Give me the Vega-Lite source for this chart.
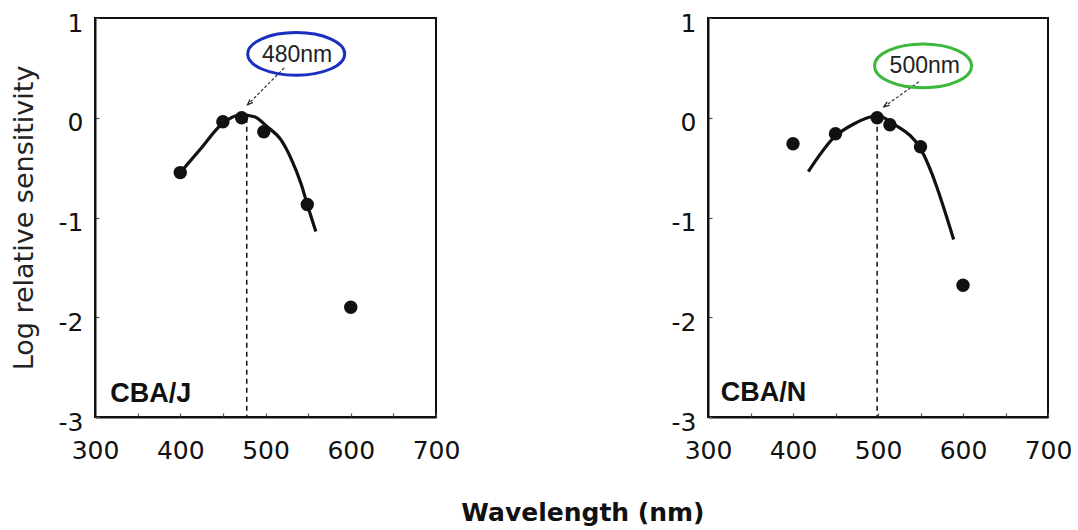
{
  "$schema": "https://vega.github.io/schema/vega-lite/v6.json",
  "background": "white",
  "padding": {"left": 9, "top": 10, "right": 5, "bottom": 5},
  "datasets": {
    "pts": [
      {"panel": "J", "wl": 400, "s": -0.55},
      {"panel": "J", "wl": 450, "s": -0.04},
      {"panel": "J", "wl": 472, "s": 0.0},
      {"panel": "J", "wl": 498, "s": -0.14},
      {"panel": "J", "wl": 549, "s": -0.87},
      {"panel": "J", "wl": 600, "s": -1.9},
      {"panel": "N", "wl": 400, "s": -0.26},
      {"panel": "N", "wl": 450, "s": -0.16},
      {"panel": "N", "wl": 499, "s": 0.0},
      {"panel": "N", "wl": 514, "s": -0.07},
      {"panel": "N", "wl": 550, "s": -0.29},
      {"panel": "N", "wl": 600, "s": -1.68}
    ],
    "curve": [
      {"panel": "J", "wl": 400, "s": -0.55},
      {"panel": "J", "wl": 424, "s": -0.31},
      {"panel": "J", "wl": 448, "s": -0.07},
      {"panel": "J", "wl": 471, "s": 0.03},
      {"panel": "J", "wl": 487, "s": 0.01},
      {"panel": "J", "wl": 502, "s": -0.09},
      {"panel": "J", "wl": 518, "s": -0.22},
      {"panel": "J", "wl": 530, "s": -0.41},
      {"panel": "J", "wl": 542, "s": -0.67},
      {"panel": "J", "wl": 549, "s": -0.87},
      {"panel": "J", "wl": 559, "s": -1.14},
      {"panel": "N", "wl": 418, "s": -0.54},
      {"panel": "N", "wl": 448, "s": -0.2},
      {"panel": "N", "wl": 472, "s": -0.06},
      {"panel": "N", "wl": 499, "s": 0.02},
      {"panel": "N", "wl": 520, "s": -0.07},
      {"panel": "N", "wl": 550, "s": -0.31},
      {"panel": "N", "wl": 589, "s": -1.22}
    ],
    "ann": [
      {"panel": "J", "peak": 478, "top": 0, "bottom": -3, "ax": 522, "ay": 0.5, "bx": 479, "by": 0.13, "lx": 536, "ly": 0.64, "tx": 537, "ty": 0.56, "label": "480nm", "sx": 318, "sy": -2.85, "strain": "CBA/J"},
      {"panel": "N", "peak": 499, "top": 0, "bottom": -3, "ax": 548, "ay": 0.36, "bx": 507, "by": 0.11, "lx": 553, "ly": 0.52, "tx": 555, "ty": 0.45, "label": "500nm", "sx": 315, "sy": -2.84, "strain": "CBA/N"}
    ]
  },
  "config": {
    "font": "Liberation Sans",
    "view": {"stroke": "#111", "strokeWidth": 2},
    "axis": {
      "grid": false,
      "domainColor": "#111",
      "domainWidth": 2,
      "labelFont": "DejaVu Sans",
      "labelFontSize": 25,
      "labelColor": "#111",
      "labelFlush": false,
      "labelOverlap": false,
      "tickColor": "#555",
      "tickSize": -4,
      "tickWidth": 1.2,
      "title": null
    }
  },
  "title": {
    "text": "Wavelength (nm)",
    "orient": "bottom",
    "anchor": "middle",
    "font": "DejaVu Sans",
    "fontSize": 25,
    "fontWeight": "bold",
    "color": "#111",
    "offset": 37,
    "dx": 42
  },
  "bounds": "flush",
  "spacing": 272,
  "hconcat": [
    {
      "width": 341,
      "height": 399,
      "layer": [
        {
          "data": {"name": "ann"},
          "transform": [{"filter": "datum.panel === 'J'"}],
          "mark": {"type": "rule", "strokeDash": [5, 4], "strokeWidth": 1.5, "color": "#111"},
          "encoding": {
            "x": {"field": "peak", "type": "quantitative", "scale": {"domain": [300, 700]}, "axis": {"values": [300, 350, 400, 450, 500, 550, 600, 650, 700], "labelExpr": "datum.value % 100 === 0 ? '' + datum.value : ''", "labelPadding": 25, "title": null}},
            "y": {"field": "top", "type": "quantitative", "scale": {"domain": [-3, 1]}, "axis": {"values": [-3, -2, -1, 0, 1], "labelExpr": "'' + datum.value", "labelPadding": 16, "labelOffset": 5, "title": "Log relative sensitivity", "titleFont": "DejaVu Sans", "titleFontSize": 27, "titleFontWeight": "normal", "titleColor": "#222", "titlePadding": 20}},
            "y2": {"field": "bottom"}
          }
        },
        {
          "data": {"name": "curve"},
          "transform": [{"filter": "datum.panel === 'J'"}],
          "mark": {"type": "line", "interpolate": "monotone", "color": "#111", "strokeWidth": 3.2},
          "encoding": {
            "x": {"field": "wl", "type": "quantitative"},
            "y": {"field": "s", "type": "quantitative"}
          }
        },
        {
          "data": {"name": "pts"},
          "transform": [{"filter": "datum.panel === 'J'"}],
          "mark": {"type": "point", "filled": true, "color": "#111", "size": 180, "opacity": 1},
          "encoding": {
            "x": {"field": "wl", "type": "quantitative"},
            "y": {"field": "s", "type": "quantitative"}
          }
        },
        {
          "data": {"name": "ann"},
          "transform": [{"filter": "datum.panel === 'J'"}],
          "mark": {"type": "rule", "strokeDash": [3, 2], "strokeWidth": 1.2, "color": "#333"},
          "encoding": {
            "x": {"field": "ax", "type": "quantitative"},
            "y": {"field": "ay", "type": "quantitative"},
            "x2": {"field": "bx"},
            "y2": {"field": "by"}
          }
        },
        {
          "data": {"name": "ann"},
          "transform": [{"filter": "datum.panel === 'J'"}],
          "mark": {"type": "point", "shape": "M-0.7,1.8L0,0L0.7,1.8", "filled": false, "size": 36, "angle": 225, "strokeWidth": 1.3, "color": "#222", "opacity": 1},
          "encoding": {
            "x": {"field": "bx", "type": "quantitative"},
            "y": {"field": "by", "type": "quantitative"}
          }
        },
        {
          "data": {"name": "ann"},
          "transform": [{"filter": "datum.panel === 'J'"}],
          "mark": {"type": "point", "shape": "M-1,0A1,0.44,0,1,1,1,0A1,0.44,0,1,1,-1,0Z", "filled": false, "size": 9409, "strokeWidth": 3, "color": "#1a2fc0", "opacity": 1},
          "encoding": {
            "x": {"field": "lx", "type": "quantitative"},
            "y": {"field": "ly", "type": "quantitative"}
          }
        },
        {
          "data": {"name": "ann"},
          "transform": [{"filter": "datum.panel === 'J'"}],
          "mark": {"type": "text", "fontSize": 23, "color": "#222", "baseline": "alphabetic", "align": "center"},
          "encoding": {
            "x": {"field": "tx", "type": "quantitative"},
            "y": {"field": "ty", "type": "quantitative"},
            "text": {"field": "label"}
          }
        },
        {
          "data": {"name": "ann"},
          "transform": [{"filter": "datum.panel === 'J'"}],
          "mark": {"type": "text", "fontSize": 27, "fontWeight": "bold", "color": "#111", "baseline": "alphabetic", "align": "left"},
          "encoding": {
            "x": {"field": "sx", "type": "quantitative"},
            "y": {"field": "sy", "type": "quantitative"},
            "text": {"field": "strain"}
          }
        }
      ]
    },
    {
      "width": 340,
      "height": 399,
      "layer": [
        {
          "data": {"name": "ann"},
          "transform": [{"filter": "datum.panel === 'N'"}],
          "mark": {"type": "rule", "strokeDash": [5, 4], "strokeWidth": 1.5, "color": "#111"},
          "encoding": {
            "x": {"field": "peak", "type": "quantitative", "scale": {"domain": [300, 700]}, "axis": {"values": [300, 350, 400, 450, 500, 550, 600, 650, 700], "labelExpr": "datum.value % 100 === 0 ? '' + datum.value : ''", "labelPadding": 25, "title": null}},
            "y": {"field": "top", "type": "quantitative", "scale": {"domain": [-3, 1]}, "axis": {"values": [-3, -2, -1, 0, 1], "labelExpr": "'' + datum.value", "labelPadding": 16, "labelOffset": 5, "title": null}},
            "y2": {"field": "bottom"}
          }
        },
        {
          "data": {"name": "curve"},
          "transform": [{"filter": "datum.panel === 'N'"}],
          "mark": {"type": "line", "interpolate": "monotone", "color": "#111", "strokeWidth": 3.2},
          "encoding": {
            "x": {"field": "wl", "type": "quantitative"},
            "y": {"field": "s", "type": "quantitative"}
          }
        },
        {
          "data": {"name": "pts"},
          "transform": [{"filter": "datum.panel === 'N'"}],
          "mark": {"type": "point", "filled": true, "color": "#111", "size": 180, "opacity": 1},
          "encoding": {
            "x": {"field": "wl", "type": "quantitative"},
            "y": {"field": "s", "type": "quantitative"}
          }
        },
        {
          "data": {"name": "ann"},
          "transform": [{"filter": "datum.panel === 'N'"}],
          "mark": {"type": "rule", "strokeDash": [3, 2], "strokeWidth": 1.2, "color": "#333"},
          "encoding": {
            "x": {"field": "ax", "type": "quantitative"},
            "y": {"field": "ay", "type": "quantitative"},
            "x2": {"field": "bx"},
            "y2": {"field": "by"}
          }
        },
        {
          "data": {"name": "ann"},
          "transform": [{"filter": "datum.panel === 'N'"}],
          "mark": {"type": "point", "shape": "M-0.7,1.8L0,0L0.7,1.8", "filled": false, "size": 36, "angle": 234, "strokeWidth": 1.3, "color": "#222", "opacity": 1},
          "encoding": {
            "x": {"field": "bx", "type": "quantitative"},
            "y": {"field": "by", "type": "quantitative"}
          }
        },
        {
          "data": {"name": "ann"},
          "transform": [{"filter": "datum.panel === 'N'"}],
          "mark": {"type": "point", "shape": "M-1,0A1,0.45,0,1,1,1,0A1,0.45,0,1,1,-1,0Z", "filled": false, "size": 9409, "strokeWidth": 3, "color": "#3cb83c", "opacity": 1},
          "encoding": {
            "x": {"field": "lx", "type": "quantitative"},
            "y": {"field": "ly", "type": "quantitative"}
          }
        },
        {
          "data": {"name": "ann"},
          "transform": [{"filter": "datum.panel === 'N'"}],
          "mark": {"type": "text", "fontSize": 23, "color": "#222", "baseline": "alphabetic", "align": "center"},
          "encoding": {
            "x": {"field": "tx", "type": "quantitative"},
            "y": {"field": "ty", "type": "quantitative"},
            "text": {"field": "label"}
          }
        },
        {
          "data": {"name": "ann"},
          "transform": [{"filter": "datum.panel === 'N'"}],
          "mark": {"type": "text", "fontSize": 27, "fontWeight": "bold", "color": "#111", "baseline": "alphabetic", "align": "left"},
          "encoding": {
            "x": {"field": "sx", "type": "quantitative"},
            "y": {"field": "sy", "type": "quantitative"},
            "text": {"field": "strain"}
          }
        }
      ]
    }
  ]
}
